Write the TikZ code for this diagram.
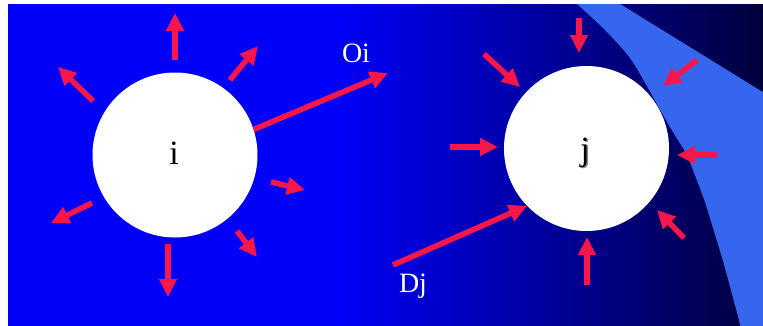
\documentclass[tikz,border=0pt]{standalone}
\usepackage{fontspec}
\setmainfont{Liberation Serif}
\usetikzlibrary{arrows.meta}
\definecolor{bgblue}{RGB}{0,0,250}
\definecolor{bgdark}{RGB}{0,0,58}
\definecolor{band}{RGB}{55,102,238}
\definecolor{arrowred}{RGB}{250,22,72}
\begin{document}
\begin{tikzpicture}[x=1pt,y=-1pt,
  ray/.style={draw=arrowred, line width=5.5pt, -{Triangle[length=18pt,width=17pt]}},
  ball/.style={circle, fill=white, minimum size=165pt, inner sep=0pt},
  lbl/.style={font=\fontsize{34}{40}\selectfont, text=black, inner sep=0pt},
  tag/.style={font=\fontsize{28}{32}\selectfont, text=white, inner sep=0pt}]
\useasboundingbox (0,0) rectangle (763,325);
% background
\fill[bgblue] (8,4) rectangle (766,328);
\shade[left color=bgblue, right color=bgdark] (335,4) rectangle (766,328);
% light band
\fill[band] plot[smooth] coordinates {(577,4) (605,30) (630,58) (648,88) (663,115) (676,137) (687,155) (696,178) (705,202) (713,228) (723,261) (732,294) (741,328)}
  -- (766,328) -- (766,94) -- (620,4) -- cycle;
% circles
\node[ball] (i) at (175,155) {};
\node[ball] (j) at (586.5,148.5) {};
\node[lbl] (ti) at (174,153.5) {i};
\node[lbl, text=black!45] (tjs) at (586.5,154) {j};
\node[lbl] (tj) at (585,152.5) {j};
% labels
\node[tag] (oi) at (356,53) {Oi};
\node[tag] (dj) at (413,286.5) {Dj};
% coordinates for arrows around i
\coordinate (i1s) at (175,60);  \coordinate (i1e) at (175,13);
\coordinate (i2s) at (230,80);  \coordinate (i2e) at (258,46);
\coordinate (i3s) at (93,101);  \coordinate (i3e) at (58,67);
\coordinate (i4e) at (388,73);
\coordinate (i5s) at (271,182); \coordinate (i5e) at (305,190);
\coordinate (i6s) at (237,231); \coordinate (i6e) at (257,257);
\coordinate (i7s) at (168,244); \coordinate (i7e) at (168,297);
\coordinate (i8s) at (92,203);  \coordinate (i8e) at (51,223);
% coordinates for arrows around j
\coordinate (j1s) at (579,18);  \coordinate (j1e) at (579,53);
\coordinate (j2s) at (484,54);  \coordinate (j2e) at (520,87);
\coordinate (j3s) at (697,60);  \coordinate (j3e) at (663,86);
\coordinate (j4s) at (450,147); \coordinate (j4e) at (498,147);
\coordinate (j5s) at (717,155); \coordinate (j5e) at (677,155);
\coordinate (j6s) at (684,238); \coordinate (j6e) at (657,210);
\coordinate (j7s) at (587,285); \coordinate (j7e) at (587,237);
\coordinate (j8s) at (393,265);
% arrows out of i
\draw[ray] (i1s) -- (i1e);
\draw[ray] (i2s) -- (i2e);
\draw[ray] (i3s) -- (i3e);
\draw[ray] (i.18) -- (i4e);
\draw[ray] (i5s) -- (i5e);
\draw[ray] (i6s) -- (i6e);
\draw[ray] (i7s) -- (i7e);
\draw[ray] (i8s) -- (i8e);
% arrows into j
\draw[ray] (j1s) -- (j1e);
\draw[ray] (j2s) -- (j2e);
\draw[ray] (j3s) -- (j3e);
\draw[ray] (j4s) -- (j4e);
\draw[ray] (j5s) -- (j5e);
\draw[ray] (j6s) -- (j6e);
\draw[ray] (j7s) -- (j7e);
\draw[ray] (j8s) -- (j.224);
\end{tikzpicture}
\end{document}
